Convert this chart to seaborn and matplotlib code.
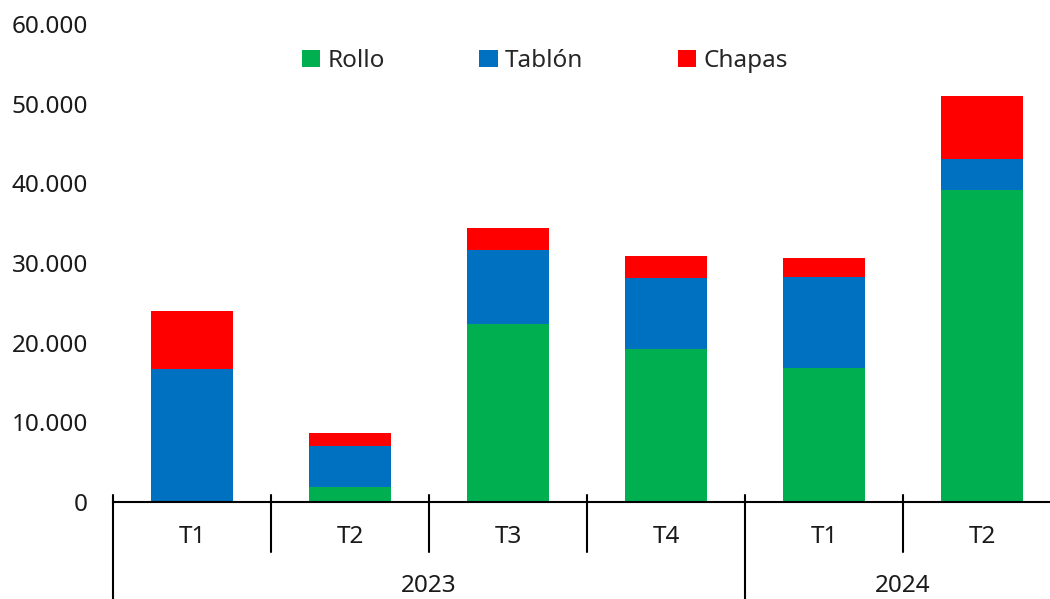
import matplotlib
matplotlib.use("Agg")
import matplotlib.pyplot as plt
import numpy as np
import pandas as pd
import seaborn as sns
from matplotlib.patches import Patch

sns.set_theme(style="white")
plt.rcParams["font.family"] = ["Noto Sans", "DejaVu Sans"]

years = ["2023", "2023", "2023", "2023", "2024", "2024"]
quarters = ["T1", "T2", "T3", "T4", "T1", "T2"]
rollo = [100, 1880, 22360, 19180, 16800, 39110]
tablon = [16570, 5190, 9260, 8920, 11430, 3980]
chapas = [7320, 1560, 2760, 2720, 2340, 7920]

series = ["Rollo", "Tablón", "Chapas"]
colors = {"Rollo": "#00B050", "Tablón": "#0070C0", "Chapas": "#FF0000"}

df = pd.DataFrame({
    "periodo": [f"{y}-{q}" for y, q in zip(years, quarters)],
    "Rollo": rollo,
    "Tablón": tablon,
    "Chapas": chapas,
})
# cumulative tops for stacking
df["top_Rollo"] = df["Rollo"]
df["top_Tablón"] = df["Rollo"] + df["Tablón"]
df["top_Chapas"] = df["top_Tablón"] + df["Chapas"]

W, H = 1050, 599
fig = plt.figure(figsize=(W / 100, H / 100), dpi=100)
# axes placed in pixel terms: x from 113 to 1061, y baseline at 502, top at 24
ax = fig.add_axes([113 / W, (H - 502) / H, 948 / W, 478 / H])

for name in reversed(series):
    sns.barplot(data=df, x="periodo", y=f"top_{name}", color=colors[name],
                width=0.525, saturation=1, ax=ax, errorbar=None,
                edgecolor="none", linewidth=0)

ax.set_ylim(0, 60000)
ax.set_xlim(-0.5, 5.5)
ax.set_yticks(np.arange(0, 60001, 10000))
ax.set_yticklabels([f"{v:,}".replace(",", ".") for v in range(0, 60001, 10000)],
                   fontsize=17.5, color="#1a1a1a")
ax.tick_params(axis="y", length=0, pad=18)
ax.set_xticks([])
ax.set_xlabel("")
ax.set_ylabel("")
for s in ["top", "right", "left"]:
    ax.spines[s].set_visible(False)
ax.spines["bottom"].set_color("black")
ax.spines["bottom"].set_linewidth(1.5)

# multi-level category axis
tr = ax.get_xaxis_transform()
px = 1 / 478
for b in np.arange(-0.5, 6, 1.0):
    if b in (-0.5, 3.5):
        ax.plot([b, b], [7 * px, -97 * px], transform=tr, color="black",
                lw=1.5, clip_on=False)
    else:
        ax.plot([b, b], [7 * px, -50 * px], transform=tr, color="black",
                lw=1.5, clip_on=False)
for i, q in enumerate(quarters):
    ax.text(i, -35 * px, q, transform=tr, ha="center", va="center",
            fontsize=17.5, color="#1a1a1a")
for label, pos in [("2023", 1.5), ("2024", 4.5)]:
    ax.text(pos, -84 * px, label, transform=tr, ha="center", va="center",
            fontsize=17.5, color="#1a1a1a")

handles = [Patch(facecolor=colors[n], edgecolor="none", label=n) for n in series]
fig.legend(handles=handles, loc="center", bbox_to_anchor=(0.519, 1 - 61 / H),
           ncol=3, frameon=False, fontsize=17.5, handlelength=0.75,
           handleheight=0.75, handletextpad=0.3, columnspacing=3.9)

fig.savefig("out.png", dpi=100)
